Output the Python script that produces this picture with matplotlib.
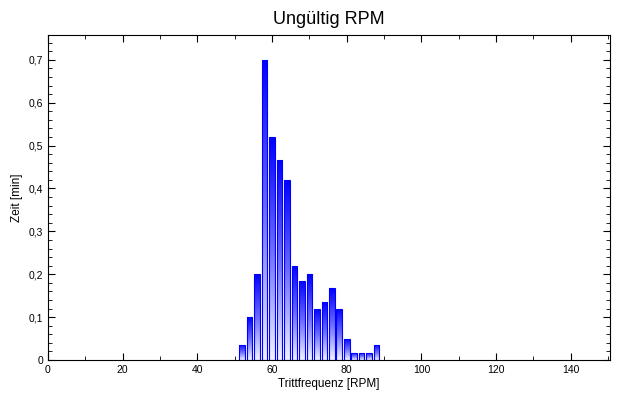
import numpy as np
import matplotlib.pyplot as plt
from matplotlib.ticker import MultipleLocator, FuncFormatter

rpm = [52, 54, 56, 58, 60, 62, 64, 66, 68, 70, 72, 74, 76, 78, 80, 82, 84, 86, 88]
zeit = [0.035, 0.1, 0.2, 0.7, 0.52, 0.467, 0.42, 0.22, 0.185, 0.2, 0.12, 0.135,
        0.167, 0.12, 0.05, 0.017, 0.017, 0.017, 0.035]

plt.rcParams['font.family'] = ['Liberation Sans', 'DejaVu Sans']

fig = plt.figure(figsize=(6.2, 4), dpi=100)
ax = fig.add_axes([0.0774, 0.1, 0.9065, 0.8125])

bars = ax.bar(rpm, zeit, width=1.5, color='none', edgecolor='#0000ff', linewidth=0.8, zorder=3)
grad = np.linspace(0, 1, 256).reshape(-1, 1)
cmap = plt.matplotlib.colors.LinearSegmentedColormap.from_list('g', ['#f2f3ff', '#6b6bff', '#0000ff'])
for b in bars:
    x0, w, h = b.get_x(), b.get_width(), b.get_height()
    im = ax.imshow(grad, extent=[x0, x0 + w, 0, h], origin='lower', aspect='auto',
                   cmap=cmap, zorder=2)
    im.set_clip_path(b)

ax.set_xlim(0, 150.5)
ax.set_ylim(0, 0.758)
ax.xaxis.set_major_locator(MultipleLocator(20))
ax.xaxis.set_minor_locator(MultipleLocator(10))
ax.yaxis.set_major_locator(MultipleLocator(0.1))
ax.yaxis.set_minor_locator(MultipleLocator(0.02))
ax.yaxis.set_major_formatter(FuncFormatter(lambda v, p: '0' if abs(v) < 1e-9 else ('%.1f' % v).replace('.', ',')))
ax.tick_params(which='both', direction='in', top=True, right=True, labelsize=7.5)
ax.tick_params(which='major', length=5)
ax.tick_params(which='minor', length=3)

ax.set_title('Ungültig RPM', fontsize=13, pad=8)
ax.set_xlabel('Trittfrequenz [RPM]', fontsize=8.5, labelpad=2)
ax.set_ylabel('Zeit [min]', fontsize=8.5)

fig.savefig('out.png', dpi=100)
